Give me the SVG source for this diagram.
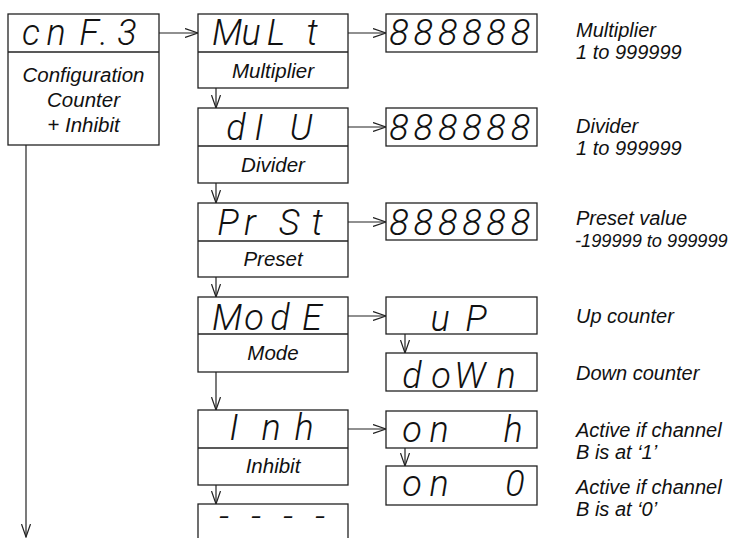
<svg xmlns="http://www.w3.org/2000/svg" width="736" height="538" viewBox="0 0 736 538">
<defs>
<style>
.box{fill:#fff;stroke:#222;stroke-width:1.3}
.sep{stroke:#222;stroke-width:1.3}
.con{stroke:#222;stroke-width:1.2;fill:none}
.lbl{font-family:"Liberation Sans",Arial,sans-serif;font-style:italic;font-size:20.5px;fill:#111;text-anchor:middle}
.note{font-family:"Liberation Sans",Arial,sans-serif;font-style:italic;font-size:20px;fill:#111}
.seg{font-family:Roboto,"Liberation Sans",sans-serif;font-style:italic;font-weight:300;font-size:36px;fill:#111;text-anchor:middle}
</style>
<marker id="arr" viewBox="0 0 14 10" refX="13" refY="5" markerWidth="14" markerHeight="10" markerUnits="userSpaceOnUse" orient="auto">
<path d="M0,0.5 L13,5 L0,9.5" fill="none" stroke="#222" stroke-width="1.2"/>
</marker>
</defs>
<rect width="736" height="538" fill="#fff"/>

<g id="connectors">
<line class="con" x1="159" y1="33" x2="198" y2="33" marker-end="url(#arr)"/>
<line class="con" x1="348" y1="33" x2="386" y2="33" marker-end="url(#arr)"/>
<line class="con" x1="348" y1="127" x2="386" y2="127" marker-end="url(#arr)"/>
<line class="con" x1="348" y1="222" x2="386" y2="222" marker-end="url(#arr)"/>
<line class="con" x1="348" y1="316" x2="386" y2="316" marker-end="url(#arr)"/>
<line class="con" x1="348" y1="429" x2="386" y2="429" marker-end="url(#arr)"/>
<line class="con" x1="216" y1="88" x2="216" y2="108" marker-end="url(#arr)"/>
<line class="con" x1="216" y1="183" x2="216" y2="203" marker-end="url(#arr)"/>
<line class="con" x1="216" y1="277" x2="216" y2="297" marker-end="url(#arr)"/>
<line class="con" x1="216" y1="372" x2="216" y2="410" marker-end="url(#arr)"/>
<line class="con" x1="216" y1="485" x2="216" y2="504" marker-end="url(#arr)"/>
<line class="con" x1="405" y1="334" x2="405" y2="353" marker-end="url(#arr)"/>
<line class="con" x1="405" y1="448" x2="405" y2="466" marker-end="url(#arr)"/>
<line class="con" x1="26" y1="145" x2="26" y2="537" marker-end="url(#arr)"/>
</g>

<g id="node-cnf3">
<rect class="box" x="8" y="14" width="151" height="131"/>
<line class="sep" x1="8" y1="52" x2="159" y2="52"/>
<text class="seg" x="31 56 89 104 127" y="45">cnF.3</text>
<text class="lbl" x="83.5" y="82">Configuration</text>
<text class="lbl" x="83.5" y="107">Counter</text>
<text class="lbl" x="83.5" y="132">+ Inhibit</text>
</g>

<g id="node-mult">
<rect class="box" x="198" y="14" width="150" height="74"/>
<line class="sep" x1="198" y1="52" x2="348" y2="52"/>
<text class="seg" x="227 251 276 312" y="45">MuLt</text>
<text class="lbl" x="273" y="78">Multiplier</text>
</g>

<g id="node-div">
<rect class="box" x="198" y="108" width="150" height="75"/>
<line class="sep" x1="198" y1="146" x2="348" y2="146"/>
<text class="seg" x="236 259 301" y="140">dIU</text>
<text class="lbl" x="273" y="172">Divider</text>
</g>

<g id="node-prst">
<rect class="box" x="198" y="203" width="150" height="74"/>
<line class="sep" x1="198" y1="241" x2="348" y2="241"/>
<text class="seg" x="228 250 289 317" y="235">PrSt</text>
<text class="lbl" x="273" y="266">Preset</text>
</g>

<g id="node-mode">
<rect class="box" x="198" y="297" width="150" height="75"/>
<line class="sep" x1="198" y1="334" x2="348" y2="334"/>
<text class="seg" x="227 254 280 312" y="330">ModE</text>
<text class="lbl" x="273" y="360">Mode</text>
</g>

<g id="node-inh">
<rect class="box" x="198" y="410" width="150" height="75"/>
<line class="sep" x1="198" y1="448" x2="348" y2="448"/>
<text class="seg" x="234 271 304" y="440">Inh</text>
<text class="lbl" x="273" y="473">Inhibit</text>
</g>

<g id="node-dashes">
<rect class="box" x="198" y="504" width="150" height="50"/>
<text class="seg" x="224 256 288 320" y="529">----</text>
</g>

<g id="node-mult-val">
<rect class="box" x="386" y="14" width="151" height="38"/>
<text class="seg" x="399 423.3 447.6 472 496 520.5" y="45">888888</text>
</g>

<g id="node-div-val">
<rect class="box" x="386" y="108" width="151" height="38"/>
<text class="seg" x="399 423.3 447.6 472 496 520.5" y="140">888888</text>
</g>

<g id="node-prst-val">
<rect class="box" x="386" y="203" width="151" height="37"/>
<text class="seg" x="399 423.3 447.6 472 496 520.5" y="235">888888</text>
</g>

<g id="node-up">
<rect class="box" x="386" y="297" width="151" height="37"/>
<text class="seg" x="440 476" y="331">uP</text>
</g>

<g id="node-down">
<rect class="box" x="386" y="353" width="151" height="38"/>
<text class="seg" x="412 441 470 506" y="388">doWn</text>
</g>

<g id="node-onh">
<rect class="box" x="386" y="411" width="151" height="37"/>
<text class="seg" x="412 439 513" y="442">onh</text>
</g>

<g id="node-on0">
<rect class="box" x="386" y="466" width="151" height="39"/>
<text class="seg" x="412 439 515" y="496">on0</text>
</g>

<g id="notes">
<text class="note" x="576" y="37">Multiplier</text>
<text class="note" x="576" y="59">1 to 999999</text>
<text class="note" x="576" y="133">Divider</text>
<text class="note" x="576" y="155">1 to 999999</text>
<text class="note" x="576" y="225">Preset value</text>
<text class="note" x="575" y="247" style="font-size:18.2px">-199999 to 999999</text>
<text class="note" x="576" y="323">Up counter</text>
<text class="note" x="576" y="380">Down counter</text>
<text class="note" x="576" y="437">Active if channel</text>
<text class="note" x="576" y="459">B is at ‘1’</text>
<text class="note" x="576" y="494">Active if channel</text>
<text class="note" x="576" y="516">B is at ‘0’</text>
</g>
</svg>
